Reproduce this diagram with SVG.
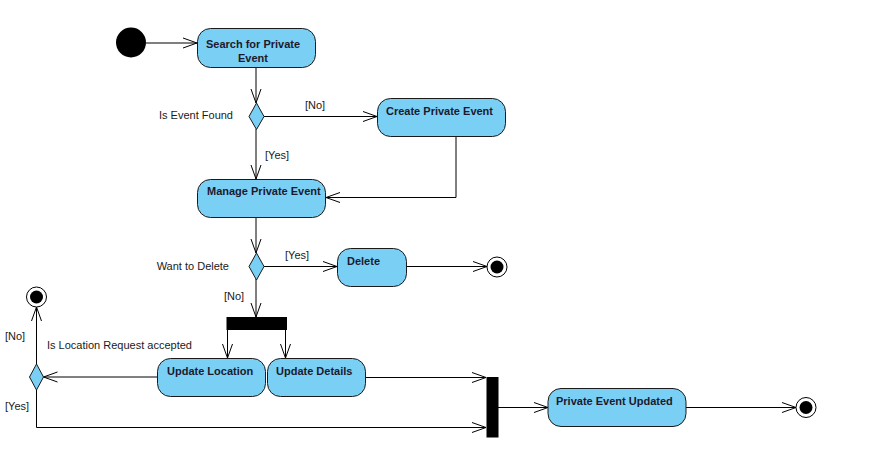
<svg xmlns="http://www.w3.org/2000/svg" width="879" height="451" viewBox="0 0 879 451">
<style>
.act{fill:#7acff5;stroke:#1a1a1a;stroke-width:1}
.dec{fill:#7acff5;stroke:#1a1a1a;stroke-width:1}
.bar{fill:#000}
.nm{font-family:"Liberation Sans",Arial,sans-serif;font-size:11px;font-weight:bold;fill:#1a1a2e}
.lb{font-family:"Liberation Sans",Arial,sans-serif;font-size:11px;fill:#1a1a1a}
.cn{fill:none;stroke:#000;stroke-width:1}
</style>
<defs>
<marker id="ah" viewBox="0 0 16 12" refX="15" refY="6" markerWidth="16" markerHeight="12" markerUnits="userSpaceOnUse" orient="auto">
<path d="M1,1 L15,6 L1,11" fill="none" stroke="#000" stroke-width="1"/>
</marker>
</defs>
<rect width="879" height="451" fill="#fff"/>
<g id="connectors">
<line class="cn" x1="146" y1="43" x2="197" y2="43" marker-end="url(#ah)"/>
<line class="cn" x1="256" y1="67" x2="256" y2="103" marker-end="url(#ah)"/>
<line class="cn" x1="264" y1="116.5" x2="377" y2="116.5" marker-end="url(#ah)"/>
<text class="lb" x="305" y="109">[No]</text>
<line class="cn" x1="256" y1="129" x2="256" y2="179" marker-end="url(#ah)"/>
<text class="lb" x="265" y="159">[Yes]</text>
<polyline class="cn" points="456,136 456,197.5 326,197.5" marker-end="url(#ah)"/>
<line class="cn" x1="256" y1="217" x2="256" y2="253" marker-end="url(#ah)"/>
<line class="cn" x1="264" y1="266.5" x2="337" y2="266.5" marker-end="url(#ah)"/>
<text class="lb" x="285" y="259">[Yes]</text>
<line class="cn" x1="406" y1="266.5" x2="487" y2="266.5" marker-end="url(#ah)"/>
<line class="cn" x1="256" y1="279" x2="256" y2="317" marker-end="url(#ah)"/>
<text class="lb" x="224" y="300">[No]</text>
<line class="cn" x1="227.5" y1="330" x2="227.5" y2="358" marker-end="url(#ah)"/>
<line class="cn" x1="285.5" y1="330" x2="285.5" y2="358" marker-end="url(#ah)"/>
<line class="cn" x1="157" y1="377" x2="43.5" y2="377" marker-end="url(#ah)"/>
<line class="cn" x1="36.5" y1="364" x2="36.5" y2="307" marker-end="url(#ah)"/>
<text class="lb" x="5" y="340">[No]</text>
<text class="lb" x="47" y="349">Is Location Request accepted</text>
<polyline class="cn" points="36.5,390 36.5,427.5 486,427.5" marker-end="url(#ah)"/>
<text class="lb" x="5" y="410">[Yes]</text>
<line class="cn" x1="366" y1="377.5" x2="486" y2="377.5" marker-end="url(#ah)"/>
<line class="cn" x1="498" y1="407.5" x2="548" y2="407.5" marker-end="url(#ah)"/>
<line class="cn" x1="686" y1="407.5" x2="796" y2="407.5" marker-end="url(#ah)"/>
</g>
<g id="start"><circle cx="131" cy="42.5" r="15" fill="#000"/></g>
<g id="search">
<rect class="act" x="197.5" y="28.5" width="118" height="39" rx="13"/>
<text class="nm" x="253" y="48" text-anchor="middle">Search for Private</text>
<text class="nm" x="253" y="62" text-anchor="middle">Event</text>
</g>
<g id="found">
<polygon class="dec" points="256.5,103 264,116.5 256.5,129.5 249,116.5"/>
<text class="lb" x="233" y="119" text-anchor="end">Is Event Found</text>
</g>
<g id="create">
<rect class="act" x="377.5" y="98.5" width="128" height="38" rx="13"/>
<text class="nm" x="386" y="115">Create Private Event</text>
</g>
<g id="manage">
<rect class="act" x="197.5" y="179.5" width="128" height="38" rx="13"/>
<text class="nm" x="207" y="195">Manage Private Event</text>
</g>
<g id="wantdelete">
<polygon class="dec" points="256.5,253 264,266.5 256.5,280 249,266.5"/>
<text class="lb" x="229" y="270" text-anchor="end">Want to Delete</text>
</g>
<g id="delete">
<rect class="act" x="337.5" y="248.5" width="69" height="38" rx="13"/>
<text class="nm" x="347" y="265">Delete</text>
</g>
<g id="end1"><circle cx="497" cy="267" r="10" fill="#fff" stroke="#000"/><circle cx="497" cy="267" r="6.5" fill="#000"/></g>
<g id="fork"><rect class="bar" x="226.5" y="317" width="60.5" height="13"/></g>
<g id="updloc">
<rect class="act" x="157.5" y="358.5" width="108" height="38" rx="13"/>
<text class="nm" x="167" y="375">Update Location</text>
</g>
<g id="upddet">
<rect class="act" x="267.5" y="358.5" width="98" height="38" rx="13"/>
<text class="nm" x="276" y="375">Update Details</text>
</g>
<g id="locacc">
<polygon class="dec" points="36.5,364 43.5,377 36.5,390 29.5,377"/>
</g>
<g id="end2"><circle cx="36.5" cy="297" r="10" fill="#fff" stroke="#000"/><circle cx="36.5" cy="297" r="6.5" fill="#000"/></g>
<g id="join"><rect class="bar" x="486.5" y="377" width="12" height="60.5"/></g>
<g id="updated">
<rect class="act" x="548" y="388.5" width="138" height="38" rx="13"/>
<text class="nm" x="556" y="405">Private Event Updated</text>
</g>
<g id="end3"><circle cx="806" cy="407.5" r="10" fill="#fff" stroke="#000"/><circle cx="806" cy="407.5" r="6.5" fill="#000"/></g>
</svg>
